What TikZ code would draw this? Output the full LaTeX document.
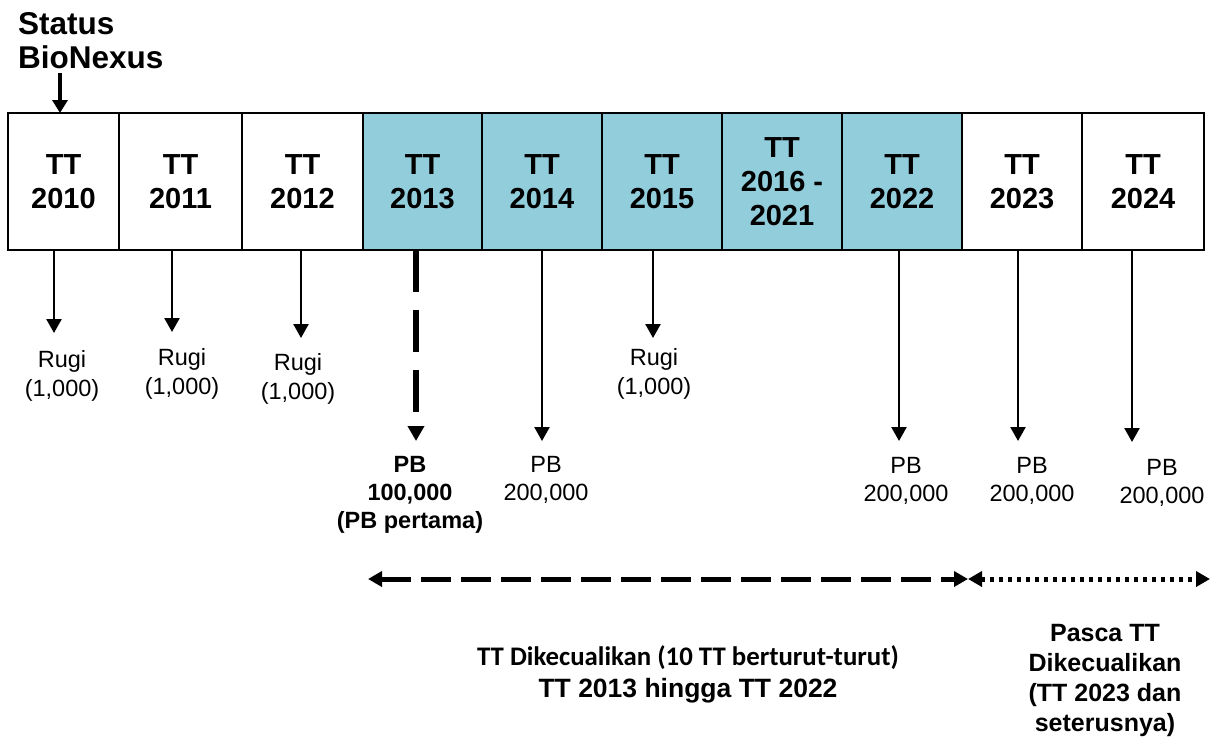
\documentclass[tikz,border=0pt]{standalone}
\usepackage{fontspec}
\setmainfont{Liberation Sans}
\newfontfamily\calibrifont{Carlito}
\usetikzlibrary{arrows.meta,positioning}
\definecolor{exempt}{RGB}{146,205,220}

\begin{document}
\begin{tikzpicture}[x=1pt, y=-1pt,
  yearbox/.style={draw, line width=2.5pt, minimum height=137pt, inner sep=0pt, outer sep=0pt, align=center, font=\fontsize{29}{34}\selectfont\bfseries},
  paid/.style={fill=exempt},
  lbl/.style={anchor=north, inner sep=0pt, align=center, font=\fontsize{23.5}{29}\selectfont},
  pblbl/.style={lbl, font=\fontsize{23.5}{28}\selectfont},
  down/.style={-{Triangle[length=14pt, width=15pt]}, line width=2.5pt},
  firstpb/.style={-{Triangle[length=15pt, width=16pt]}, line width=6pt, dash pattern=on 42pt off 18pt},
  span/.style={{Triangle[length=14pt, width=15pt]}-{Triangle[length=14pt, width=15pt]}, line width=5pt}
]
\useasboundingbox (0,0) rectangle (1216,737);

% year boxes
\node[yearbox, minimum width=111pt] (y2010) at (63.5,181.5) {TT\\2010};
\node[yearbox, minimum width=123pt, right=0pt of y2010] (y2011) {TT\\2011};
\node[yearbox, minimum width=121pt, right=0pt of y2011] (y2012) {TT\\2012};
\node[yearbox, paid, minimum width=119pt, right=0pt of y2012] (y2013) {TT\\2013};
\node[yearbox, paid, minimum width=120pt, right=0pt of y2013] (y2014) {TT\\2014};
\node[yearbox, paid, minimum width=120pt, right=0pt of y2014] (y2015) {TT\\2015};
\node[yearbox, paid, minimum width=120pt, right=0pt of y2015] (y2016) {TT\\2016 -\\2021};
\node[yearbox, paid, minimum width=120pt, right=0pt of y2016] (y2022) {TT\\2022};
\node[yearbox, minimum width=120pt, right=0pt of y2022] (y2023) {TT\\2023};
\node[yearbox, minimum width=122pt, right=0pt of y2023] (y2024) {TT\\2024};

% status
\node[anchor=base west, inner sep=0pt, align=left, font=\fontsize{31.5}{34}\selectfont\bfseries] (status) at (18,68) {Status\\BioNexus};
\coordinate (sdown) at (60,113);
\draw[-{Triangle[length=13pt, width=15pt]}, line width=4pt] ([yshift=-4pt]status.south -| sdown) -- (sdown);

% arrow ends
\coordinate (t2010) at (54,333);
\coordinate (t2011) at (172,332);
\coordinate (t2012) at (301,338);
\coordinate (t2013) at (416,441);
\coordinate (t2014) at (542,441);
\coordinate (t2015) at (653,338);
\coordinate (t2022) at (899,441);
\coordinate (t2023) at (1018,441);
\coordinate (t2024) at (1132,442);

% results
\node[lbl] (l2010) at (62,350) {Rugi\\(1,000)};
\node[lbl] (l2011) at (182,348) {Rugi\\(1,000)};
\node[lbl] (l2012) at (298,353) {Rugi\\(1,000)};
\node[pblbl, font=\fontsize{23.5}{28}\selectfont\bfseries] (l2013) at (410,456) {PB\\100,000\\(PB pertama)};
\node[pblbl] (l2014) at (546,456) {PB\\200,000};
\node[lbl] (l2015) at (654,348) {Rugi\\(1,000)};
\node[pblbl] (l2022) at (906,457) {PB\\200,000};
\node[pblbl] (l2023) at (1032,457) {PB\\200,000};
\node[pblbl] (l2024) at (1162,459) {PB\\200,000};

\draw[down] (y2010.south -| t2010) -- (t2010);
\draw[down] (y2011.south -| t2011) -- (t2011);
\draw[down] (y2012.south -| t2012) -- (t2012);
\draw[firstpb] (y2013.south -| t2013) -- (t2013);
\draw[down] (y2014.south -| t2014) -- (t2014);
\draw[down] (y2015.south -| t2015) -- (t2015);
\draw[down] (y2022.south -| t2022) -- (t2022);
\draw[down] (y2023.south -| t2023) -- (t2023);
\draw[down] (y2024.south -| t2024) -- (t2024);

% exempt period
\coordinate (exL) at (368,579);
\coordinate (exR) at (968,579);
\coordinate (postR) at (1210,579);
\draw[span, dash pattern=on 30pt off 10pt] (exL) -- (exR);
\draw[span, dash pattern=on 4pt off 5pt] (exR) -- (postR);

\node[anchor=base, inner sep=0pt, align=center, font=\fontsize{26.5}{32}\selectfont\bfseries] (exlbl) at (688,697)
  {{\calibrifont\fontsize{26.8}{32}\selectfont\bfseries TT Dikecualikan (10 TT berturut-turut)}\\TT 2013 hingga TT 2022};
\node[anchor=base, inner sep=0pt, align=center, font=\fontsize{25}{29.7}\selectfont\bfseries] (postlbl) at (1105,731)
  {Pasca TT\\Dikecualikan\\(TT 2023 dan\\seterusnya)};
\end{tikzpicture}
\end{document}
